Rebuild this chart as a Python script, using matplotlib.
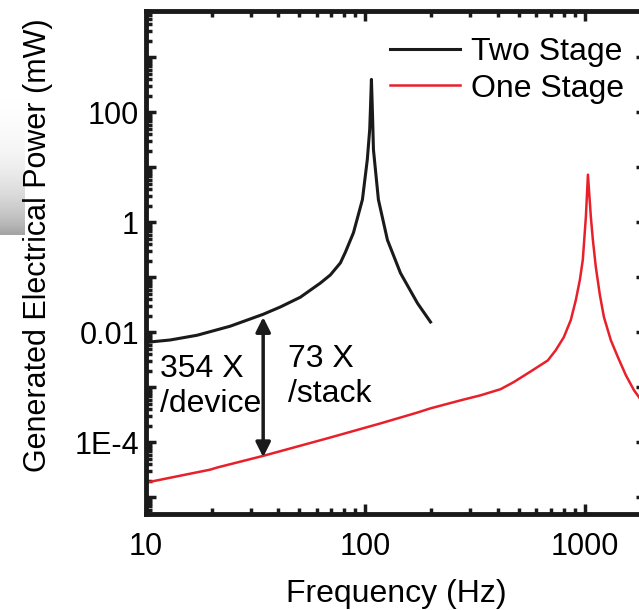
import numpy as np
import matplotlib
matplotlib.use("Agg")
import matplotlib.pyplot as plt
from matplotlib.ticker import FixedLocator, LogLocator, FuncFormatter, NullFormatter

plt.rcParams['font.family'] = ['Liberation Sans', 'DejaVu Sans']

# Two Stage response (black)
two_freq = [10, 12.9, 17.1, 24.2, 34.2, 40.9, 50.5, 62.3, 69.2, 76.9, 81.1, 88.2,
            96.9, 102, 104.6, 105.4, 106.5, 107.7, 108.8, 114.6, 126, 144.5, 172.7, 198]
two_power = [0.0066, 0.0073, 0.0089, 0.013, 0.0214, 0.029, 0.0437, 0.079, 0.111,
             0.184, 0.29, 0.65, 2.6, 13.9, 49, 113, 400, 95, 21, 2.6, 0.48, 0.12,
             0.034, 0.0155]

# One Stage response (red)
one_freq = [10, 19.6, 21.1, 34.2, 69.2, 117.1, 172.7, 198, 271.5, 335, 413, 474,
            566, 678, 737, 802, 863, 910, 949, 979, 1011, 1033, 1065, 1088, 1122,
            1171, 1222, 1314, 1415, 1538, 1675, 1783, 1900]
one_power = [1.86e-5, 3.2e-5, 3.5e-5, 5.7e-5, 1.23e-4, 2.22e-4, 3.5e-4, 4.17e-4,
             5.83e-4, 7.2e-4, 9.3e-4, 1.25e-3, 1.95e-3, 3.1e-3, 4.76e-3, 8.2e-3,
             0.0168, 0.039, 0.090, 0.21, 1.27, 7.4, 1.27, 0.483, 0.155, 0.048, 0.019,
             7.2e-3, 3.55e-3, 1.67e-3, 8.9e-4, 6.3e-4, 5e-4]

# arrow between the curves at 34 Hz
arrow_freq = 34.2
arrow_top = 0.019
arrow_bottom = 5.4e-5

y_text = {1e2: '100', 1: '1', 1e-2: '0.01', 1e-4: '1E-4'}


def y_label(v, pos):
    for k, t in y_text.items():
        if abs(np.log10(v) - np.log10(k)) < 1e-6:
            return t
    return ''


fig = plt.figure(figsize=(6.39, 6.10), dpi=100)

# grey scan smudge at the left edge
smudge = fig.add_axes([0, 375 / 610, 25 / 639, 150 / 610])
grad = np.linspace(0, 1, 100) ** 2
smudge.imshow(np.tile(grad[:, None], (1, 10)), cmap='Greys', vmin=0, vmax=2.2,
              aspect='auto', origin='upper')
smudge.axis('off')

ax = fig.add_axes([146 / 639, 96 / 610, 500 / 639, 503 / 610])

ax.plot(two_freq, two_power, color='#1a1a1a', lw=2.2, label='Two Stage')
ax.plot(one_freq, one_power, color='#e8202a', lw=1.8, label='One Stage')

ax.set_xscale('log')
ax.set_yscale('log')
ax.set_xlim(10, 1900)
ax.set_ylim(5e-6, 7e3)

ax.yaxis.set_major_locator(FixedLocator([10.0 ** k for k in range(-5, 4)]))
ax.yaxis.set_major_formatter(FuncFormatter(y_label))
ax.yaxis.set_minor_locator(LogLocator(base=10, subs=np.arange(2, 10), numticks=20))
ax.yaxis.set_minor_formatter(NullFormatter())

ax.xaxis.set_major_locator(FixedLocator([10, 100, 1000]))
ax.xaxis.set_major_formatter(FuncFormatter(lambda v, p: '%d' % v))
ax.xaxis.set_minor_locator(LogLocator(base=10, subs=np.arange(2, 10), numticks=20))
ax.xaxis.set_minor_formatter(NullFormatter())

for s in ax.spines.values():
    s.set_linewidth(3.5)
    s.set_color('#1a1a1a')
ax.tick_params(which='both', direction='in', top=True, right=True, width=2.5, color='#1a1a1a')
ax.tick_params(which='major', length=7, labelsize=22)
ax.tick_params(axis='y', which='major', pad=5)
ax.tick_params(axis='x', which='major', pad=13)
ax.tick_params(which='minor', length=4)

ax.set_xlabel('Frequency (Hz)', fontsize=23, labelpad=12)
ax.set_ylabel('Generated Electrical Power (mW)', fontsize=22)
ax.yaxis.set_label_coords(-0.186, 0.535)

ax.annotate('', xy=(arrow_freq, arrow_bottom), xytext=(arrow_freq, arrow_top),
            arrowprops=dict(arrowstyle='<|-|>', color='#1a1a1a', lw=2.5,
                            mutation_scale=22, shrinkA=0, shrinkB=0))
ax.text(11.6, 1.05e-3, '354 X\n/device', fontsize=23, va='center', ha='left', linespacing=1.2)
ax.text(44.5, 1.58e-3, '73 X\n/stack', fontsize=23, va='center', ha='left', linespacing=1.2)

ax.legend(loc='upper left', bbox_to_anchor=(0.488, 0.948), frameon=False, fontsize=23,
          handlelength=2.2, handletextpad=0.35, labelspacing=0.2, borderpad=0,
          borderaxespad=0)

fig.savefig('out.png', dpi=100)
